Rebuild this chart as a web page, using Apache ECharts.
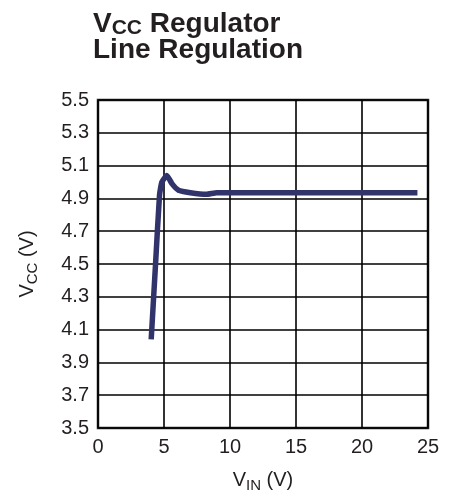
<!DOCTYPE html>
<html><head><meta charset="utf-8">
<script src="https://cdn.jsdelivr.net/npm/echarts@6/dist/echarts.min.js"></script>
<style>html,body{margin:0;padding:0;background:#fff}#c{width:449px;height:499px}</style>
</head><body><div id="c"></div>
<script>
const vin = [4.03, 4.36, 4.66, 4.84, 5.22, 5.6, 6.1, 7.0, 8.2, 9.0, 12, 24.2];
const vcc = [4.04, 4.5, 4.92, 5.0, 5.04, 4.99, 4.95, 4.935, 4.925, 4.935, 4.935, 4.935];
const yLabels = ['3.5','3.7','3.9','4.1','4.3','4.5','4.7','4.9','5.1','5.3','5.5'];
const xLabels = ['0','5','10','15','20','25'];

const FONT = 'Liberation Sans, Arial, sans-serif';
const TXT = '#231f20';
const chart = echarts.init(document.getElementById('c'));
chart.setOption({
  animation: false,
  title: {
    left: 88, top: 6,
    text: '{a|V}{b|CC}{a| Regulator}\n{a|Line Regulation}',
    textStyle: {
      rich: {
        a: {fontFamily: FONT, fontWeight: 'bold', fontSize: 28, color: TXT, lineHeight: 26},
        b: {fontFamily: FONT, fontWeight: 'bold', fontSize: 21, color: TXT, lineHeight: 26, padding: [8,0,0,0]}
      }
    }
  },
  grid: {left: 98, right: 21, top: 100, bottom: 71, show: true, borderColor: '#2a2a2a', borderWidth: 2.5, backgroundColor: 'transparent'},
  xAxis: {
    type: 'value', min: 0, max: 25, interval: 5,
    name: '{a|V}{b|IN}{a| (V)}', nameLocation: 'middle', nameGap: 40,
    nameTextStyle: {rich: {
      a: {fontFamily: FONT, fontSize: 20, color: TXT},
      b: {fontFamily: FONT, fontSize: 15, color: TXT, padding: [10,0,0,0]}
    }},
    axisLine: {show: false}, axisTick: {show: false},
    axisLabel: {fontFamily: FONT, fontSize: 20, color: TXT, margin: 9,
      formatter: v => xLabels.includes(String(v)) ? String(v) : ''},
    splitLine: {show: true, lineStyle: {color: '#000', width: 1.6}}
  },
  yAxis: {
    type: 'value', min: 3.5, max: 5.5, interval: 0.1,
    name: '{a|V}{b|CC}{a| (V)}', nameLocation: 'middle', nameGap: 58, nameRotate: 90,
    nameTextStyle: {rich: {
      a: {fontFamily: FONT, fontSize: 20, color: TXT},
      b: {fontFamily: FONT, fontSize: 15, color: TXT, padding: [10,0,0,0]}
    }},
    axisLine: {show: false}, axisTick: {show: false},
    axisLabel: {fontFamily: FONT, fontSize: 20, color: TXT, margin: 9,
      formatter: v => { const s = v.toFixed(1); return yLabels.includes(s) ? s : ''; }},
    splitLine: {show: true, lineStyle: {color: ['#000', 'rgba(0,0,0,0)'], width: 1.6}}
  },
  series: [{
    type: 'line', data: vin.map((x, i) => [x, vcc[i]]),
    showSymbol: false, smooth: 0.15,
    lineStyle: {color: '#31336b', width: 5.5}
  }]
});
</script></body></html>
